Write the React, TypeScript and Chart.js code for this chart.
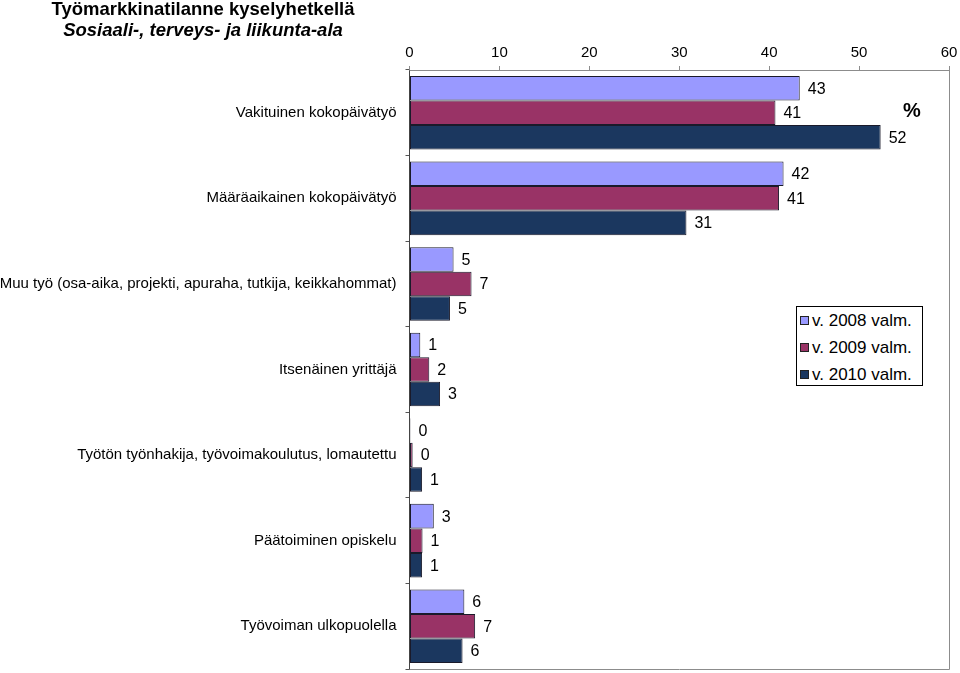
import React, { useEffect, useRef } from "react";
import { Chart, registerables } from "chart.js";

Chart.register(...registerables);

const categories = [
  "Vakituinen kokopäivätyö",
  "Määräaikainen kokopäivätyö",
  "Muu työ (osa-aika, projekti, apuraha, tutkija, keikkahommat)",
  "Itsenäinen yrittäjä",
  "Työtön työnhakija, työvoimakoulutus, lomautettu",
  "Päätoiminen opiskelu",
  "Työvoiman ulkopuolella",
];

const seriesNames = ["v. 2008 valm.", "v. 2009 valm.", "v. 2010 valm."];
const values2008 = [43.4, 41.6, 4.9, 1.2, 0.1, 2.7, 6.1];
const values2009 = [40.7, 41.1, 6.9, 2.2, 0.35, 1.45, 7.3];
const values2010 = [52.4, 30.8, 4.5, 3.4, 1.4, 1.4, 5.9];
const seriesColors = ["#9999FF", "#993366", "#1B375F"];
const xTicks = [0, 10, 20, 30, 40, 50, 60];

const FONT = "'Liberation Sans', Arial, sans-serif";

export default function App() {
  const ref = useRef<HTMLCanvasElement | null>(null);

  useEffect(() => {
    if (!ref.current) return;
    const labelPlugin = {
      id: "valueLabels",
      beforeDatasetsDraw(chart: any) {
        const { ctx, chartArea } = chart;
        ctx.save();
        ctx.strokeStyle = "#8c8c8c";
        ctx.lineWidth = 1;
        ctx.beginPath();
        ctx.moveTo(chartArea.left, chartArea.top + 0.5);
        ctx.lineTo(Math.round(chartArea.right) + 0.5, chartArea.top + 0.5);
        ctx.lineTo(Math.round(chartArea.right) + 0.5, Math.round(chartArea.bottom) + 0.5);
        ctx.lineTo(chartArea.left, Math.round(chartArea.bottom) + 0.5);
        ctx.stroke();
        ctx.restore();
      },
      afterDatasetsDraw(chart: any) {
        const { ctx } = chart;
        ctx.save();
        ctx.font = "16px " + FONT;
        ctx.fillStyle = "#000";
        ctx.textAlign = "left";
        ctx.textBaseline = "middle";
        chart.data.datasets.forEach((ds: any, i: number) => {
          const meta = chart.getDatasetMeta(i);
          meta.data.forEach((el: any, j: number) => {
            const v = ds.data[j];
            ctx.fillText(String(Math.round(v)), el.x + 8, el.y + 1);
          });
        });
        ctx.restore();
      },
    };

    const chart = new Chart(ref.current, {
      type: "bar",
      data: {
        labels: categories,
        datasets: [values2008, values2009, values2010].map((d, i) => ({
          label: seriesNames[i],
          data: d,
          backgroundColor: seriesColors[i],
          borderColor: "#1a1a2a",
          borderWidth: 1,
          borderSkipped: false,
          barPercentage: 1,
          categoryPercentage: 0.86,
        })),
      },
      options: {
        indexAxis: "y",
        animation: false,
        responsive: false,
        maintainAspectRatio: false,
        layout: { padding: { left: 0, right: 11, top: 0, bottom: 4 } },
        plugins: {
          legend: { display: false },
          tooltip: { enabled: false },
          title: { display: false },
        },
        scales: {
          x: {
            position: "top",
            min: 0,
            max: 60,
            afterBuildTicks(scale: any) {
              scale.ticks = xTicks.map((v) => ({ value: v }));
            },
            afterFit(scale: any) {
              scale.height = 70;
              scale.paddingLeft = 0;
              scale.paddingRight = 0;
            },
            ticks: {
              font: { family: FONT, size: 15 },
              color: "#000",
              padding: 4,
              maxRotation: 0,
            },
            grid: {
              display: true,
              drawOnChartArea: false,
              drawTicks: true,
              tickLength: 4,
              color: "#8c8c8c",
            },
            border: { display: true, color: "#8c8c8c" },
          },
          y: {
            afterFit(scale: any) {
              scale.width = 409.5;
              scale.paddingTop = 0;
              scale.paddingBottom = 0;
            },
            ticks: {
              font: { family: FONT, size: 15 },
              color: "#000",
              padding: 9,
              autoSkip: false,
            },
            grid: {
              display: true,
              drawOnChartArea: false,
              drawTicks: true,
              tickLength: 4,
              offset: true,
              color: "#555",
            },
            border: { display: true, color: "#444" },
          },
        },
      },
      plugins: [labelPlugin],
    } as any);
    return () => chart.destroy();
  }, []);

  const legendRow = (i: number) => (
    <div
      key={i}
      style={{ display: "flex", alignItems: "center", height: 27, whiteSpace: "nowrap" }}
    >
      <span
        style={{
          display: "inline-block",
          width: 7,
          height: 7,
          background: seriesColors[i],
          border: "1px solid #222",
          marginRight: 3,
        }}
      />
      <span>{seriesNames[i]}</span>
    </div>
  );

  return (
    <div
      style={{
        position: "fixed",
        left: 0,
        top: 0,
        width: 960,
        height: 673,
        background: "#fff",
        fontFamily: FONT,
      }}
    >
      <canvas ref={ref} width={960} height={673} style={{ position: "absolute", left: 0, top: 0 }} />
      <div
        style={{
          position: "absolute",
          left: 0,
          top: -2,
          width: 406,
          textAlign: "center",
          fontSize: 18.5,
          fontWeight: "bold",
          lineHeight: "21px",
        }}
      >
        <div>Työmarkkinatilanne kyselyhetkellä</div>
        <div style={{ fontStyle: "italic" }}>Sosiaali-, terveys- ja liikunta-ala</div>
      </div>
      <div
        style={{
          position: "absolute",
          left: 903,
          top: 99,
          fontSize: 20,
          fontWeight: "bold",
        }}
      >
        %
      </div>
      <div
        style={{
          position: "absolute",
          left: 796,
          top: 306,
          width: 122,
          height: 78,
          border: "1px solid #000",
          background: "#fff",
          fontSize: 17,
          paddingLeft: 3,
          paddingTop: 0,
          boxSizing: "content-box",
        }}
      >
        {legendRow(0)}
        {legendRow(1)}
        {legendRow(2)}
      </div>
    </div>
  );
}
